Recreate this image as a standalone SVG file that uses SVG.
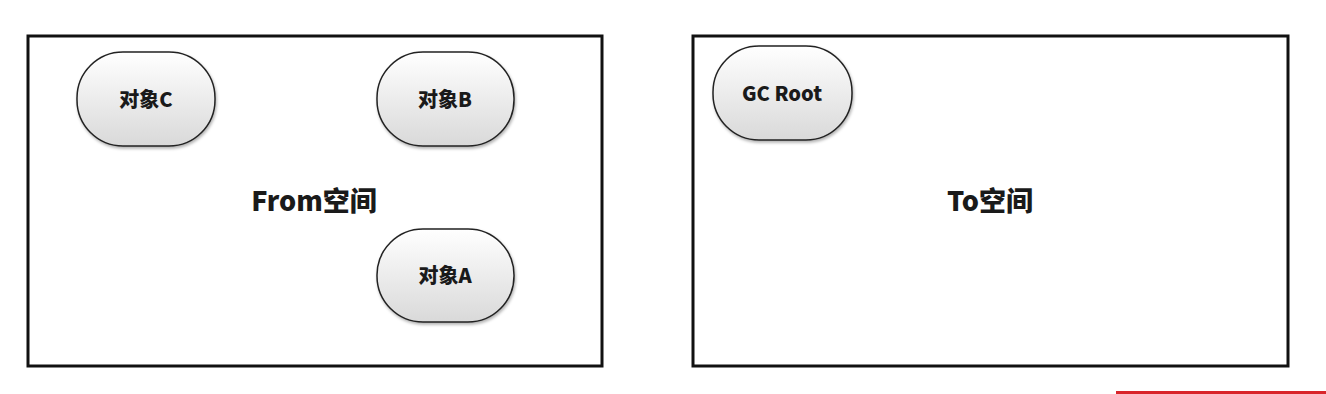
<svg xmlns="http://www.w3.org/2000/svg" width="1326" height="394" viewBox="0 0 1326 394">
<defs>
<linearGradient id="g" x1="0" y1="0" x2="0" y2="1">
<stop offset="0" stop-color="#ffffff"/>
<stop offset="1" stop-color="#d9d9d9"/>
</linearGradient>
<filter id="sh" x="-20%" y="-20%" width="140%" height="140%">
<feDropShadow dx="1" dy="2" stdDeviation="1.5" flood-color="#000" flood-opacity="0.3"/>
</filter>
</defs>
<style>
.space{fill:#fff;stroke:#111;stroke-width:3}
.node rect{fill:url(#g);stroke:#222;stroke-width:1.5;filter:url(#sh)}
.lbl{font-family:"Noto Sans CJK SC","Open Sans",sans-serif;font-weight:900;font-size:20px;fill:#1a1a1a;text-anchor:middle;dominant-baseline:central}
.big{font-family:"Noto Sans CJK SC","Open Sans",sans-serif;font-weight:900;font-size:27px;fill:#1a1a1a;text-anchor:middle;dominant-baseline:central}
</style>
<rect width="1326" height="394" fill="#fff"/>
<g id="from-space">
<rect class="space" x="28" y="36" width="574" height="330"/>
<text class="big" x="314" y="199">From空间</text>
</g>
<g id="to-space">
<rect class="space" x="693" y="36" width="595" height="330"/>
<text class="big" x="990" y="199">To空间</text>
</g>
<g id="objC" class="node">
<rect x="77" y="52" width="138" height="94" rx="46" ry="46"/>
<text class="lbl" x="146" y="98">对象C</text>
</g>
<g id="objB" class="node">
<rect x="377" y="52" width="137" height="94" rx="46" ry="46"/>
<text class="lbl" x="445" y="98">对象B</text>
</g>
<g id="objA" class="node">
<rect x="377" y="229" width="137" height="93" rx="46" ry="46"/>
<text class="lbl" x="445" y="274">对象A</text>
</g>
<g id="gcroot" class="node">
<rect x="713" y="46" width="139" height="94" rx="46" ry="46"/>
<text class="lbl" x="782" y="92">GC Root</text>
</g>
<g id="connectors"></g>
<rect x="1116" y="391" width="210" height="3" fill="#d9252b"/>
</svg>
